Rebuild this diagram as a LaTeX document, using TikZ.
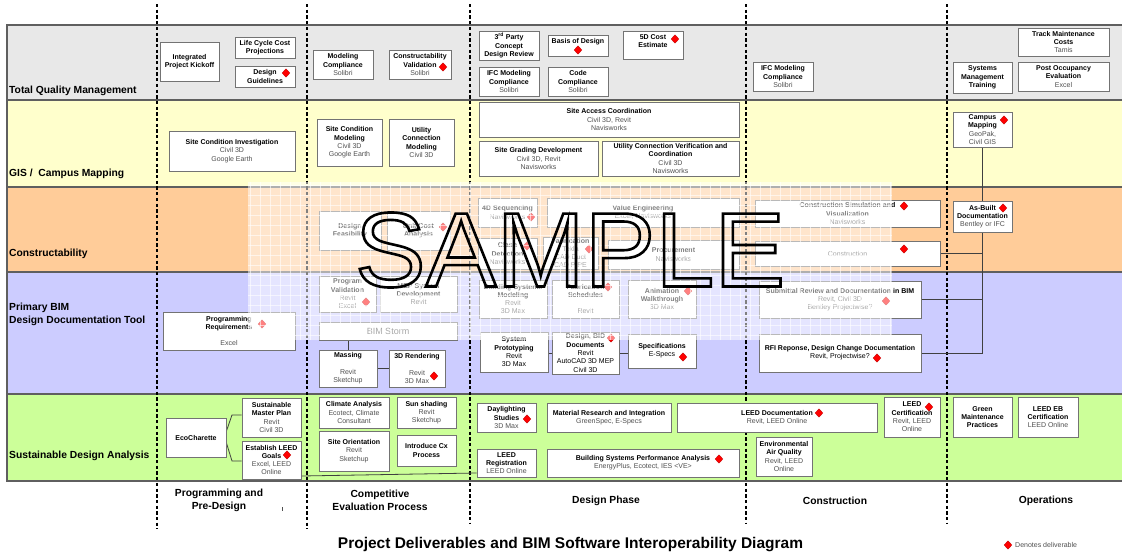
\documentclass[tikz,border=0pt]{standalone}
\usepackage{fontspec}
\setmainfont{Liberation Sans}
\usetikzlibrary{shapes.geometric}
\definecolor{tqm}{RGB}{232,232,232}
\definecolor{gis}{RGB}{255,255,204}
\definecolor{con}{RGB}{255,204,153}
\definecolor{bim}{RGB}{204,204,255}
\definecolor{sus}{RGB}{204,255,153}
\definecolor{boxline}{RGB}{115,115,115}
\definecolor{swgray}{RGB}{80,80,80}
\definecolor{laneline}{RGB}{95,95,95}
\newcommand\SW[1]{{\mdseries\color{swgray}#1}}
\newcommand\SB[1]{{\mdseries #1}}
\newcommand\BX[6]{\node[box,minimum width={(#4-#2)*1pt},minimum height={(#5-#3)*1pt}] (#1) at ({(#2+#4)/2},{(#3+#5)/2}) {#6};}
\newcommand\DM[3]{\node[deliv] (#1) at (#2,#3) {};}
\pgfdeclarelayer{lanes}
\pgfdeclarelayer{conn}
\pgfdeclarelayer{top}
\pgfsetlayers{lanes,conn,main,top}
\tikzset{
  box/.style={draw=boxline, fill=white, line width=0.9pt, inner sep=1pt, align=center,
    font=\fontsize{7}{8.3}\selectfont\bfseries},
  deliv/.style={diamond, fill=red, draw=red!75!black, line width=0.3pt, inner sep=0,
    minimum width=8pt, minimum height=8.5pt},
  lane/.style={anchor=west, inner sep=0, align=left, font=\fontsize{10.3}{13}\selectfont\bfseries},
  phase/.style={inner sep=0, align=center, font=\fontsize{10.3}{13}\selectfont\bfseries},
  divider/.style={line width=2.7pt, dash pattern=on 3.3pt off 2.4pt},
  link/.style={draw=black!75, line width=0.8pt},
  laneedge/.style={draw=laneline, line width=1.2pt}
}
\begin{document}
\begin{tikzpicture}[x=1pt,y=-1pt]
\useasboundingbox (0,0) rectangle (1122,554);
\begin{pgfonlayer}{lanes}
\fill[white] (0,0) rectangle (1122,554);
\fill[tqm] (7,25) rectangle (1122,100);
\fill[gis] (7,100) rectangle (1122,187);
\fill[con] (7,187) rectangle (1122,272);
\fill[bim] (7,272) rectangle (1122,394);
\fill[sus] (7,394) rectangle (1122,481);
\draw[laneedge] (1122,25) -- (7,25) -- (7,481) -- (1122,481);
\foreach \ly in {100,187,272,394} \draw[laneedge] (7,\ly) -- (1122,\ly);
\foreach \dx/\dy in {157/529, 307/529, 470/523, 746/523, 947/523}
  \draw[divider] (\dx,4) -- (\dx,\dy);
\end{pgfonlayer}

% lane labels
\node[lane] (l1) at (9,91) {Total Quality Management};
\node[lane] (l2) at (9,174) {GIS / \ Campus Mapping};
\node[lane] (l3) at (9,254) {Constructability};
\node[lane] (l4) at (9,314.5) {Primary BIM\\Design Documentation Tool};
\node[lane] (l5) at (9,456) {Sustainable Design Analysis};

% TQM
\BX{ipk}{160}{42}{219}{81}{Integrated\\Project Kickoff}
\BX{lcc}{235}{37}{295}{58}{Life Cycle Cost\\Projections}
\BX{dg}{235}{66}{295}{87}{Design\\Guidelines}
\DM{dgd}{286}{73}
\BX{mc}{313}{50}{373}{79}{Modeling\\Compliance\\\SW{Solibri}}
\BX{cv}{389}{50}{451}{79}{Constructability\\Validation\\\SW{Solibri}}
\DM{cvd}{443}{67}
\BX{tpc}{479}{31}{539}{60}{3\textsuperscript{rd} Party\\Concept\\Design Review}
\BX{ifca}{479}{67}{539}{96}{IFC Modeling\\Compliance\\\SW{Solibri}}
\BX{bod}{548}{35}{608}{56}{Basis of Design\\\phantom{Basis}}
\DM{bodd}{578}{50}
\BX{cc}{548}{67}{608}{96}{Code\\Compliance\\\SW{Solibri}}
\BX{fdc}{623}{31}{683}{59}{5D Cost\\Estimate\\\phantom{Estimate}}
\DM{fdcd}{675}{39}
\BX{ifcb}{753}{62}{813}{91}{IFC Modeling\\Compliance\\\SW{Solibri}}
\BX{smt}{953}{62}{1012}{93}{Systems\\Management\\Training}
\BX{tmc}{1018}{28}{1109}{56}{Track Maintenance\\Costs\\\SW{Tamis}}
\BX{poe}{1018}{62}{1109}{91}{Post Occupancy\\Evaluation\\\SW{Excel}}

% GIS
\BX{sci}{169}{131}{295}{171}{Site Condition Investigation\\\SW{Civil 3D}\\\SW{Google Earth}}
\BX{scm}{317}{119}{382}{166}{Site Condition\\Modeling\\\SW{Civil 3D}\\\SW{Google Earth}}
\BX{ucm}{389}{119}{454}{166}{Utility\\Connection\\Modeling\\\SW{Civil 3D}}
\BX{sac}{479}{102}{739}{137}{Site Access Coordination\\\SW{Civil 3D, Revit}\\\SW{Navisworks}}
\BX{sgd}{479}{141}{598}{176}{Site Grading Development\\\SW{Civil 3D, Revit}\\\SW{Navisworks}}
\BX{ucv}{602}{141}{739}{176}{Utility Connection Verification and\\Coordination\\\SW{Civil 3D}\\\SW{Navisworks}}
\BX{cm}{953}{112}{1012}{147}{Campus\\Mapping\\\SW{GeoPak,}\\\SW{Civil GIS}}
\DM{cmd}{1004}{120}

% Constructability
\BX{df}{319}{211}{381}{250}{Design\\Feasibility}
\BX{uca}{387}{211}{450}{250}{Unit Cost\\Analysis}
\DM{ucad}{443}{227}
\BX{fds}{478}{198}{537}{227}{4D Sequencing\\\SW{Navisworks}}
\DM{fdsd}{531}{217}
\BX{ve}{547}{198}{739}{227}{Value Engineering\\\SW{Excel, Navisworks}}
\BX{cd}{478}{238}{537}{269}{Clash\\Detection\\\SW{Navisworks}}
\DM{cdd}{527}{246}
\BX{fab}{543}{237}{598}{269}{Fabrication\\\SW{Tekla}\\\SW{CAD Duct}\\\SW{CAD PIPE}}
\DM{fabd}{589}{249}
\BX{proc}{608}{240}{739}{269}{Procurement\\\SW{Navisworks}}
\BX{csv}{755}{200}{940}{227}{Construction Simulation and\\Visualization\\\SW{Navisworks}}
\DM{csvd}{904}{206}
\BX{constr}{755}{241}{940}{266}{\SW{Construction}}
\DM{constrd}{904}{249}
\BX{abd}{953}{201}{1012}{232}{As-Built\\Documentation\\\SW{Bentley or IFC}}
\DM{abdd}{1003}{208}

% Primary BIM
\BX{pr}{163}{312}{295}{350}{Programming\\Requirements\\[8.3pt]\SW{Excel}}
\DM{prd}{262}{324}
\BX{pv}{319}{276}{376}{312}{Program\\Validation\\\SW{Revit}\\\SW{Excel}}
\DM{pvd}{366}{302}
\BX{mep}{380}{276}{457}{312}{MEP System\\Development\\\SW{Revit}}
\node[box, minimum width=138pt, minimum height=18pt, font=\fontsize{9}{10}\selectfont] (storm) at (388,331) {\SW{BIM Storm}};
\BX{mass}{319}{350}{377}{387}{Massing\\[8.3pt]\SW{Revit}\\\SW{Sketchup}}
\BX{rend}{389}{350}{445}{387}{3D Rendering\\[8.3pt]\SW{Revit}\\\SW{3D Max}}
\DM{rendd}{434}{376}
\BX{bsm}{479}{280}{547}{318}{Building Systems\\Modeling\\\SW{Revit}\\\SW{3D Max}}
\BX{fs}{552}{280}{619}{318}{Fabrication\\Schedules\\[8.3pt]\SW{Revit}}
\DM{fsd}{608}{287}
\BX{aw}{628}{280}{696}{318}{Animation\\Walkthrough\\\SW{3D Max}}
\DM{awd}{688}{291}
\BX{srd}{759}{281}{921}{318}{Submittal Review and Documentation in BIM\\\SW{Revit, Civil 3D}\\\SW{Bentley Projectwise?}}
\DM{srdd}{886}{301}
\BX{sp}{480}{332}{548}{372}{System\\Prototyping\\\SB{Revit}\\\SB{3D Max}}
\BX{dbid}{552}{332}{619}{374}{Design, BID\\Documents\\\SB{Revit}\\\SB{AutoCAD 3D MEP}\\\SB{Civil 3D}}
\DM{dbidd}{611}{338}
\BX{spec}{628}{334}{696}{368}{Specifications\\\SB{E-Specs}}
\DM{specd}{683}{357}
\BX{rfi}{759}{334}{921}{372}{RFI Reponse, Design Change Documentation\\\SB{Revit, Projectwise?}}
\DM{rfid}{877}{358}

% Sustainable
\BX{eco}{166}{418}{226}{457}{EcoCharette}
\BX{smp}{242}{398}{301}{437}{Sustainable\\Master Plan\\\SW{Revit}\\\SW{Civil 3D}}
\BX{elg}{242}{441}{301}{479}{Establish LEED\\Goals\\\SW{Excel, LEED}\\\SW{Online}}
\DM{elgd}{287}{455}
\BX{ca}{319}{397}{389}{428}{Climate Analysis\\\SW{Ecotect, Climate}\\\SW{Consultant}}
\BX{so}{319}{431}{389}{471}{Site Orientation\\\SW{Revit}\\\SW{Sketchup}}
\BX{ss}{397}{397}{456}{428}{Sun shading\\\SW{Revit}\\\SW{Sketchup}}
\BX{icx}{397}{435}{456}{466}{Introduce Cx\\Process}
\BX{ds}{477}{403}{536}{432}{Daylighting\\Studies\\\SW{3D Max}}
\DM{dsd}{527}{419}
\BX{lr}{477}{449}{536}{477}{LEED\\Registration\\\SW{LEED Online}}
\BX{mri}{547}{403}{671}{432}{Material Research and Integration\\\SW{GreenSpec, E-Specs}}
\BX{bspa}{547}{449}{739}{477}{Building Systems Performance Analysis\\\SW{EnergyPlus, Ecotect, IES <VE>}}
\DM{bspad}{719}{459}
\BX{ld}{677}{403}{877}{432}{LEED Documentation\\\SW{Revit, LEED Online}}
\DM{ldd}{819}{413}
\BX{eaq}{756}{437}{812}{476}{Environmental\\Air Quality\\\SW{Revit, LEED}\\\SW{Online}}
\BX{lc}{884}{397}{940}{437}{LEED\\Certification\\\SW{Revit, LEED}\\\SW{Online}}
\DM{lcd}{929}{407}
\BX{gmp}{953}{397}{1012}{437}{Green\\Maintenance\\Practices}
\BX{leb}{1018}{397}{1078}{437}{LEED EB\\Certification\\\SW{LEED Online}}

% connectors
\begin{pgfonlayer}{conn}
\draw[link] (cm.south) -- (cm.south |- rfi.east);
\draw[link] (constr.east) -- (cm.south |- constr.east);
\draw[link] (srd.east) -- (cm.south |- srd.east);
\draw[link] (rfi.east) -- (cm.south |- rfi.east);
\draw[link] (mass.north) -- (mass.north |- storm.south);
\draw[link] (mass.east) -- (rend.west);
\draw[link] (sp.east |- 0,353) -- (spec.west |- 0,353);
\draw[link] (eco.east |- 0,431) -- (232,415) -- (smp.west |- 0,415);
\draw[link] (eco.east |- 0,443) -- (232,461) -- (elg.west |- 0,461);
\draw[link] (elg.east |- 0,476) -- (lr.west |- 0,473);
\end{pgfonlayer}

% phases, title, legend
\node[phase] (p1) at (219,500.5) {Programming and\\Pre-Design};
\node[phase] (p2) at (380,500.5) {Competitive\\Evaluation Process};
\node[phase] (p3) at (606,500.5) {Design Phase};
\node[phase] (p4) at (835,500.5) {Construction};
\node[phase] (p5) at (1046,500.5) {Operations};
\draw[swgray, line width=0.5pt] (282,507) -- (282,511);
\node[inner sep=0, font=\fontsize{15.5}{18}\selectfont\bfseries] (title) at (570.5,545) {Project Deliverables and BIM Software Interoperability Diagram};
\DM{legd}{1008}{545}
\node[anchor=west, inner sep=0, font=\fontsize{7}{8}\selectfont, text=swgray] (legt) at (1015,545) {Denotes deliverable};

% watermark
\begin{pgfonlayer}{top}
\fill[white, opacity=0.5] (248,182) rectangle (892,340);
\foreach \gx in {250,260,...,890} \draw[white, opacity=0.6, line width=0.8pt] (\gx,182) -- (\gx,340);
\foreach \gy in {185,195,...,335} \draw[white, opacity=0.6, line width=0.8pt] (248,\gy) -- (892,\gy);
\node[inner sep=0, font=\fontsize{106}{110}\selectfont] (wm) at (570,250) {\color{black}\special{pdf:literal direct 1 Tr 2.6 w}SAMPLE\special{pdf:literal direct 0 Tr}};
\end{pgfonlayer}
\end{tikzpicture}
\end{document}
